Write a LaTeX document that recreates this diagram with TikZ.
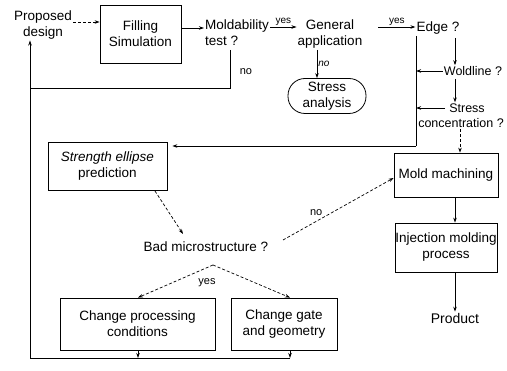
\documentclass[tikz,border=0pt]{standalone}
\usepackage{fontspec}
\setmainfont{Liberation Sans}
\usetikzlibrary{arrows.meta}
\begin{document}
\begin{tikzpicture}[x=1pt,y=-1pt,
  font=\fontsize{13.5}{16}\selectfont,
  box/.style={draw, line width=0.8pt, inner sep=0pt, align=center},
  lbl/.style={inner sep=1pt, align=center},
  small/.style={inner sep=1pt, font=\fontsize{10}{12}\selectfont},
  arr/.style={-{Stealth[length=5pt,width=3.5pt]}, line width=0.7pt},
  ln/.style={line width=0.7pt},
  dsh/.style={arr, dash pattern=on 3pt off 2pt}]
\useasboundingbox (0,0) rectangle (507,371);
% nodes
\node[lbl] (prop) at (43,25) {Proposed\\design};
\node[box, minimum width=81pt, minimum height=58pt] (fill) at (140.5,34) {Filling\\Simulation};
\node[lbl, align=left, anchor=west] (mold) at (204,33) {Moldability\\test ?};
\node[lbl] (gen) at (330,34) {General\\application};
\node[box, rounded corners=17pt, minimum width=78pt, minimum height=35pt] (stress) at (327,96) {Stress\\analysis};
\node[lbl] (edge) at (438,28) {Edge ?};
\node[lbl, font=\fontsize{12.5}{15}\selectfont] (weld) at (473,71) {Woldline ?};
\node[lbl, font=\fontsize{12.5}{15}\selectfont] (concA) at (467,108) {Stress};
\node[lbl, font=\fontsize{12.5}{15}\selectfont] (concB) at (461,123) {concentration ?};
\node[box, minimum width=119pt, minimum height=48pt] (sep) at (107.5,166) {\textit{Strength ellipse}\\prediction};
\node[lbl] (bad) at (206,247) {Bad microstructure ?};
\node[box, minimum width=104pt, minimum height=44pt] (mach) at (446,175) {Mold machining};
\node[box, minimum width=102pt, minimum height=49pt] (inj) at (446,247.5) {Injection molding\\process};
\node[lbl, font=\fontsize{14}{16}\selectfont] (prod) at (455,318) {Product};
\node[box, minimum width=155pt, minimum height=52pt] (cpc) at (137.5,324) {Change processing\\conditions};
\node[box, minimum width=106pt, minimum height=52pt] (cgg) at (284,324) {Change gate\\and geometry};
% helper coordinates
\coordinate (trtop) at (416,36);
\coordinate (trbot) at (416,146);
\coordinate (nodown) at (230,88);
\coordinate (loopL) at (30,88);
\coordinate (botL) at (30,358);
\coordinate (apex) at (213,265);
% connectors
\draw[dsh] (prop.east |- 0,22) -- (fill.west |- 0,22);
\draw[arr] (fill.east |- 0,28) -- (mold.west |- 0,28);
\draw[arr] (mold.east |- 0,27) -- (gen.west |- 0,27) node[small, midway, above] {yes};
\draw[arr] (gen.east |- 0,27) ++(15,0) -- (edge.west |- 0,27) node[small, midway, above] {yes};
\draw[arr] (317,50) -- (stress.north -| 317,0) node[small, midway, right] {\textit{no}};
\draw[ln] (230,50) -- (nodown) -- (loopL);
\node[small, font=\fontsize{11}{12}\selectfont] (nolbl) at (246,72) {no};
\draw[arr] (botL) -- (prop.south -| botL);
\draw[arr] (455,38) -- (weld.north -| 455,0);
\draw[arr] (455,79) -- (concA.north -| 455,0);
\draw[arr] (weld.west) -- (weld.west -| trtop);
\draw[arr] ([xshift=-3pt]concA.west) -- (concA.west -| trtop);
\draw[ln] (trtop) -- (trbot);
\draw[arr] (trbot) -- ([xshift=5pt]sep.east |- trbot);
\draw[dsh] (concB.south -| 460,0) -- (mach.north -| 460,0);
\draw[arr] (mach.south -| 455,0) -- (inj.north -| 455,0);
\draw[arr] (inj.south -| 455,0) -- (prod.north -| 455,0);
\draw[dsh] (155,191) -- (183,234);
\draw[dsh] (283,240) -- (mach.west |- 0,178) node[small, font=\fontsize{11}{12}\selectfont, pos=0.3, above=4pt] {no};
\draw[dsh] (apex) -- (cpc.north -| 138,0);
\draw[dsh] (apex) -- (cgg.north -| 290,0);
\node[small, font=\fontsize{11}{12}\selectfont] (yeslbl) at (207,283) {yes};
\draw[arr] (cpc.south -| 138,0) -- (138,358);
\draw[arr] (cgg.south -| 290,0) -- (290,358);
\draw[ln] (290,358) -- (botL);
\end{tikzpicture}
\end{document}
